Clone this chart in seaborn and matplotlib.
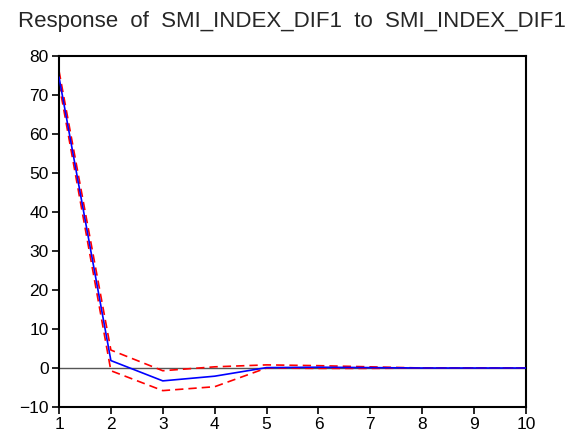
import matplotlib
matplotlib.use("Agg")
import matplotlib.pyplot as plt
import seaborn as sns
import pandas as pd

# Impulse response of SMI_INDEX_DIF1 with +/- 2 S.E. bands
periods = [1, 2, 3, 4, 5, 6, 7, 8, 9, 10]
response = [74.6, 1.9, -3.3, -2.1, 0.1, 0.2, 0.1, 0.0, 0.0, 0.0]
upper_band = [76.2, 4.6, -0.7, 0.3, 0.8, 0.6, 0.3, 0.0, 0.0, 0.0]
lower_band = [73.0, -0.7, -5.8, -4.8, 0.0, -0.1, -0.1, 0.0, 0.0, 0.0]
y_ticks = [-10, 0, 10, 20, 30, 40, 50, 60, 70, 80]

sns.set_style("white")
plt.rcParams["font.family"] = ["Liberation Sans", "DejaVu Sans"]

df = pd.DataFrame({"period": periods, "response": response,
                   "upper": upper_band, "lower": lower_band})

fig = plt.figure(figsize=(5.88, 4.37), dpi=100)
ax = fig.add_axes([59 / 588, 1 - 407 / 437, (526 - 59) / 588, (407 - 56) / 437])

ax.axhline(0, color="#555555", lw=1.0, zorder=1)
sns.lineplot(data=df, x="period", y="upper", ax=ax, color="#ff0000",
             lw=1.2, linestyle=(0, (5, 3)), zorder=2)
sns.lineplot(data=df, x="period", y="lower", ax=ax, color="#ff0000",
             lw=1.2, linestyle=(0, (5, 3)), zorder=2)
sns.lineplot(data=df, x="period", y="response", ax=ax, color="#0000ff",
             lw=1.2, zorder=3)

ax.set_xlim(1, 10)
ax.set_ylim(-10, 80)
ax.set_xticks(periods)
ax.set_yticks(y_ticks)
ax.set_xlabel("")
ax.set_ylabel("")
for s in ax.spines.values():
    s.set_color("black")
    s.set_linewidth(1.5)
ax.tick_params(axis="both", direction="out", length=5, width=1.2,
               colors="black", labelsize=12.5, pad=2.5,
               bottom=True, left=True)

fig.text(18 / 588, 1 - 22 / 437,
         "Response  of  SMI_INDEX_DIF1  to  SMI_INDEX_DIF1",
         fontsize=16, ha="left", va="center")

fig.savefig("out.png", dpi=100)
